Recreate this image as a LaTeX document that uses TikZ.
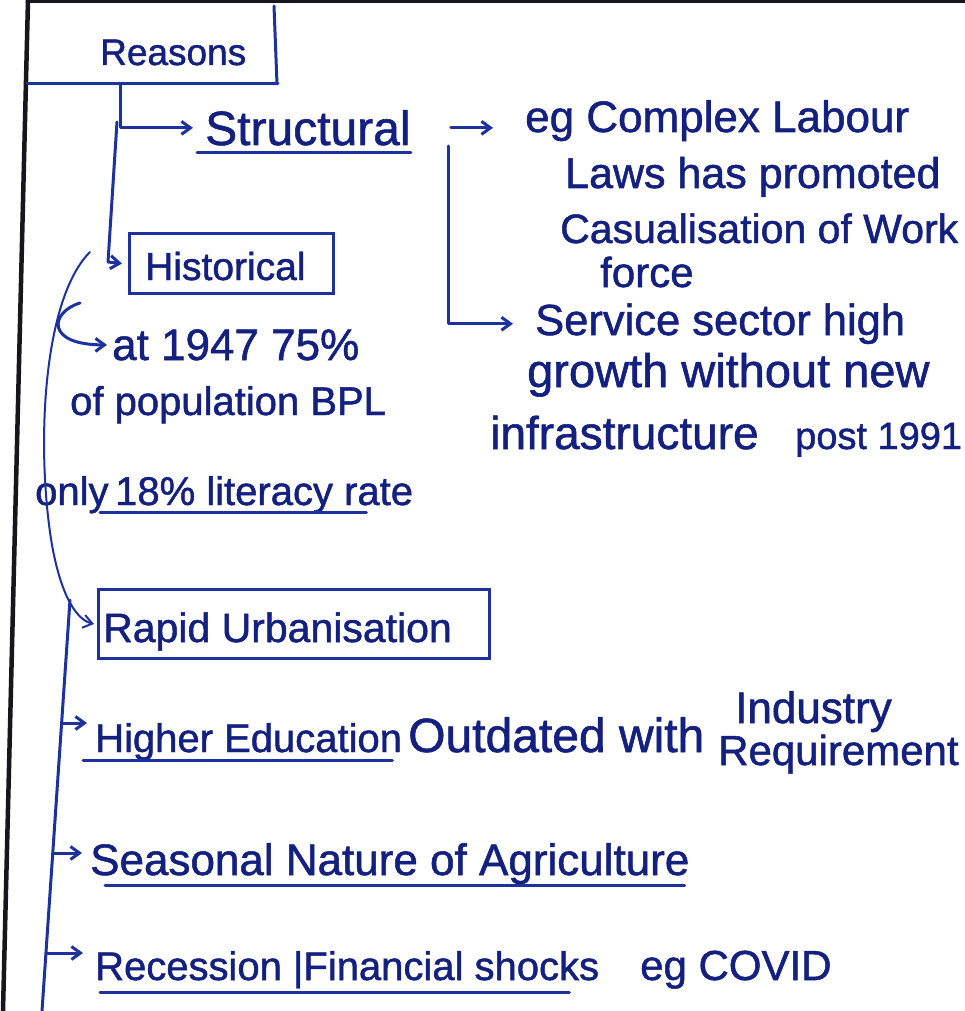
\documentclass[tikz,border=0pt]{standalone}
\usepackage{fontspec}
\setmainfont[FakeBold=1.2]{Liberation Sans}
\usetikzlibrary{arrows.meta}
\definecolor{ink}{RGB}{30,50,158}
\definecolor{inktext}{RGB}{20,32,128}
\definecolor{rulecol}{RGB}{22,22,28}
\begin{document}
\begin{tikzpicture}[x=1pt,y=-1pt,
  hw/.style={font=\fontsize{#1}{#1}\selectfont, text=inktext, inner sep=0pt, anchor=base west},
  pen/.style={draw=ink, line width=3pt, line cap=round, line join=round},
  arr/.style={pen, -{Straight Barb[length=9pt,width=13pt]}},
  ul/.style={draw=ink, line width=3pt, line cap=round},
  frame/.style={draw=ink, line width=3pt, inner sep=0pt}]
\useasboundingbox[fill=white] (0,0) rectangle (965,1011);

% page rules
\draw[draw=rulecol, line width=4.5pt] (28,0) -- (3,1011);
\draw[draw=rulecol, line width=3pt] (28,1.5) -- (965,1.5);

% heading box
\node[hw=37] (reasons) at (100,65) {Reasons};
\draw[pen] (27,84) -- (278,84);
\draw[pen] (274,6) -- (277,84);

% first level
\node[hw=48] (structural) at (205,145) {Structural};
\node[hw=39] (historical) at (145,280) {Historical};
\node[frame, minimum width=204pt, minimum height=60pt, anchor=north west] (hbox) at (128,232) {};

% structural examples
\node[hw=44] (eg) at (525,132) {eg Complex Labour};
\node[hw=43] (laws) at (565,188) {Laws has promoted};
\node[hw=41] (casual) at (560,243) {Casualisation of Work};
\node[hw=42] (force) at (600,287) {force};
\node[hw=43.5] (service) at (535,335) {Service sector high};
\node[hw=47] (growth) at (527,387) {growth without new};
\node[hw=46] (infra) at (490,449) {infrastructure};
\node[hw=38] (post) at (795,449) {post 1991};

% historical details
\node[hw=44] (at1947) at (112,360) {at 1947 75\%};
\node[hw=40] (popu) at (70,415) {of population BPL};
\node[hw=40] (only) at (35,505) {only};
\node[hw=40] (lit) at (115,505) {18\% literacy rate};

% further reasons
\node[hw=41] (rapidt) at (103,642) {Rapid Urbanisation};
\node[frame, minimum width=391pt, minimum height=69pt, anchor=north west] (rapid) at (97,588) {};
\node[hw=40] (higher) at (95,752) {Higher Education};
\node[hw=48] (outdated) at (408,752) {Outdated with};
\node[hw=44] (industry) at (735,723) {Industry};
\node[hw=42] (require) at (718,765) {Requirement};
\node[hw=44] (seasonal) at (90,875) {Seasonal Nature of Agriculture};
\node[hw=40] (recession) at (95,980) {Recession |Financial shocks};
\node[hw=42] (covid) at (640,980) {eg COVID};

% connectors
\coordinate (rb) at (120,84);
\draw[arr, shorten >=12pt] (rb) |- (structural.west);
\coordinate (hs) at (117,122);
\draw[arr] (hs) -- (108,262) -- ([xshift=-6pt]hbox.west);
\draw[arr, shorten <=40pt, shorten >=32pt] (structural.east) -- (eg.west |- structural.east);
\coordinate (sv) at (448,146);
\draw[arr, shorten >=22pt] (sv) |- (service.west);

\coordinate (hc) at (90,252);
\draw[arr, line width=2pt] (hc) .. controls (42,300) and (36,450) .. (52,545)
  .. controls (62,600) and (78,620) .. ([xshift=-3pt]rapid.west);
\coordinate (hk) at (80,303);
\draw[arr, shorten >=5pt] (hk) .. controls (50,312) and (45,345) .. (at1947.west);

\coordinate (tk) at (70,600);
\coordinate (tb) at (42,1011);
\draw[pen] (tk) -- (tb);
\coordinate (b1) at (61.6,723);
\coordinate (b2) at (52.8,853);
\coordinate (b3) at (46,953);
\draw[arr, shorten >=8pt] (b1) -- (higher.west |- b1);
\draw[arr, shorten >=8pt] (b2) -- (seasonal.west |- b2);
\draw[arr, shorten >=12pt] (b3) -- (recession.west |- b3);

% underlines
\draw[ul] ([xshift=-8pt,yshift=-8pt]structural.base west) -- ([yshift=-8pt]structural.base east);
\draw[ul] ([xshift=-12pt,yshift=-8pt]higher.base west) -- ([xshift=-10pt,yshift=-8pt]higher.base east);
\draw[ul] ([xshift=-15pt,yshift=-7pt]lit.base west) -- ([xshift=-47pt,yshift=-7pt]lit.base east);
\draw[ul] ([xshift=15pt,yshift=-10pt]seasonal.base west) -- ([xshift=-5pt,yshift=-10pt]seasonal.base east);
\draw[ul] ([xshift=5pt,yshift=-12pt]recession.base west) -- ([xshift=-30pt,yshift=-12pt]recession.base east);
\end{tikzpicture}
\end{document}
